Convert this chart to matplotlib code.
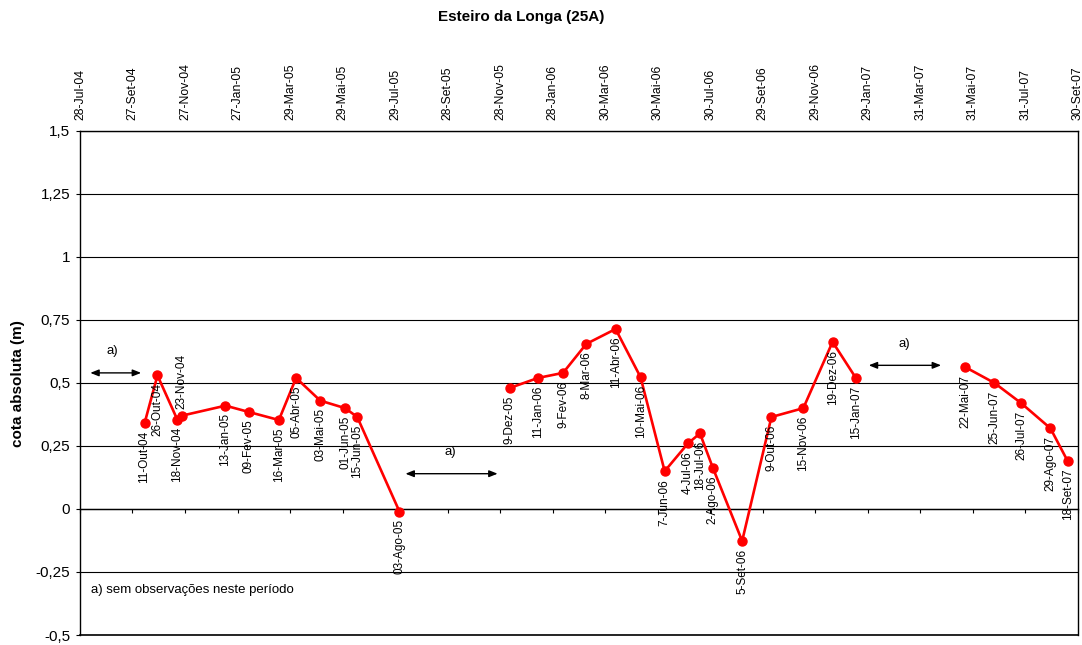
import datetime as dt
import matplotlib
matplotlib.use("Agg")
import matplotlib.pyplot as plt
import matplotlib.dates as mdates

plt.rcParams['font.family'] = ['Liberation Sans', 'DejaVu Sans']

# Portuguese month abbreviations used in the date labels
MESES = {'Jan': 1, 'Fev': 2, 'Mar': 3, 'Abr': 4, 'Mai': 5, 'Jun': 6,
         'Jul': 7, 'Ago': 8, 'Set': 9, 'Out': 10, 'Nov': 11, 'Dez': 12}

# observation dates (as written on the labels) and absolute level (m)
datas = ['11-Out-04', '26-Out-04', '18-Nov-04', '23-Nov-04', '13-Jan-05',
         '09-Fev-05', '16-Mar-05', '05-Abr-05', '03-Mai-05', '01-Jun-05',
         '15-Jun-05', '03-Ago-05',
         '9-Dez-05', '11-Jan-06', '9-Fev-06', '8-Mar-06', '11-Abr-06',
         '10-Mai-06', '7-Jun-06', '4-Jul-06', '18-Jul-06', '2-Ago-06',
         '5-Set-06', '9-Out-06', '15-Nov-06', '19-Dez-06', '15-Jan-07',
         '22-Mai-07', '25-Jun-07', '26-Jul-07', '29-Ago-07', '18-Set-07']
cota = [0.34, 0.53, 0.355, 0.37, 0.41,
        0.385, 0.353, 0.52, 0.43, 0.40,
        0.365, -0.01,
        0.48, 0.52, 0.54, 0.655, 0.714,
        0.523, 0.15, 0.26, 0.30, 0.163,
        -0.127, 0.365, 0.40, 0.663, 0.52,
        0.563, 0.50, 0.42, 0.32, 0.19]
# each line segment runs up to (not including) the gap that follows
troco_fim = [12, 27, 32]

# date axis: every 61 days between these limits
x_inicio = '28-Jul-04'
x_fim = '30-Set-07'
x_passo = 61

y_ticks = [1.5, 1.25, 1.0, 0.75, 0.5, 0.25, 0.0, -0.25, -0.5]
y_tick_labels = ['1,5', '1,25', '1', '0,75', '0,5', '0,25', '0', '-0,25', '-0,5']

# labels written above their point instead of below
acima = {'23-Nov-04'}


def para_data(s):
    d, m, a = s.split('-')
    return dt.datetime(2000 + int(a), MESES[m], int(d))


def rotulo(d):
    nomes = {v: k for k, v in MESES.items()}
    return f"{d.day:02d}-{nomes[d.month]}-{d.year % 100:02d}"


x = [mdates.date2num(para_data(s)) for s in datas]
x0 = mdates.date2num(para_data(x_inicio))
x1 = mdates.date2num(para_data(x_fim))

fig = plt.figure(figsize=(10.82, 6.45), dpi=100)
ax = fig.add_axes([0.0739, 0.0155, 0.9224, 0.7815])

ini = 0
for fim in troco_fim:
    ax.plot(x[ini:fim], cota[ini:fim], color='#ff0000', lw=1.9,
            marker='o', ms=6.5, mec='#ff0000', mfc='#ff0000', zorder=3)
    ini = fim

for xi, yi, s in zip(x, cota, datas):
    if s in acima:
        ax.annotate(s, (xi, yi), xytext=(0, 5), textcoords='offset points',
                    rotation=90, ha='center', va='bottom', fontsize=8.5)
    else:
        ax.annotate(s, (xi, yi), xytext=(0, -5.5), textcoords='offset points',
                    rotation=90, ha='center', va='top', fontsize=8.5)

# x axis crosses at zero, labels are shown at the top
ticks = []
t = x0
while t <= x1 + 0.5:
    ticks.append(t)
    t += x_passo
ax.set_xlim(x0, x1)
ax.set_xticks(ticks)
ax.set_xticklabels([rotulo(mdates.num2date(t)) for t in ticks])
ax.spines['bottom'].set_position(('data', 0))
ax.tick_params(axis='x', bottom=True, top=False, labelbottom=False,
               labeltop=True, direction='out', length=3, width=0.8,
               pad=5, labelsize=8.8, labelrotation=90)

ax.set_ylim(-0.5, 1.5)
ax.set_yticks(y_ticks)
ax.set_yticklabels(y_tick_labels)
ax.tick_params(axis='y', direction='out', length=3, width=0.8, pad=4,
               labelsize=11)
ax.grid(axis='y', color='black', lw=0.8)
ax.axhline(-0.5, color='black', lw=1.2, clip_on=False)
for sp in ax.spines.values():
    sp.set_linewidth(1.0)

# periods without observations
periodos = [(dt.datetime(2004, 8, 9), dt.datetime(2004, 10, 7), 0.54,
             dt.datetime(2004, 9, 4), 0.627),
            (dt.datetime(2005, 8, 10), dt.datetime(2005, 11, 25), 0.14,
             dt.datetime(2005, 10, 1), 0.226),
            (dt.datetime(2007, 1, 30), dt.datetime(2007, 4, 24), 0.57,
             dt.datetime(2007, 3, 12), 0.655)]
for a, b, y, xt, yt in periodos:
    ax.annotate('', xy=(mdates.date2num(a), y), xytext=(mdates.date2num(b), y),
                arrowprops=dict(arrowstyle='<|-|>,head_length=0.5,head_width=0.2',
                                color='black', lw=1.0, shrinkA=0, shrinkB=0))
    ax.text(mdates.date2num(xt), yt, 'a)', ha='center', va='center', fontsize=9.5)

ax.text(0.011, 0.089, 'a) sem observações neste período', transform=ax.transAxes,
        ha='left', va='center', fontsize=9.5)

fig.text(0.4815, 0.974, 'Esteiro da Longa (25A)', ha='center', va='center',
         fontsize=11, fontweight='bold')
fig.text(0.017, 0.406, 'cota absoluta (m)', ha='center', va='center',
         rotation=90, fontsize=11, fontweight='bold')

fig.savefig('out.png', dpi=100)
